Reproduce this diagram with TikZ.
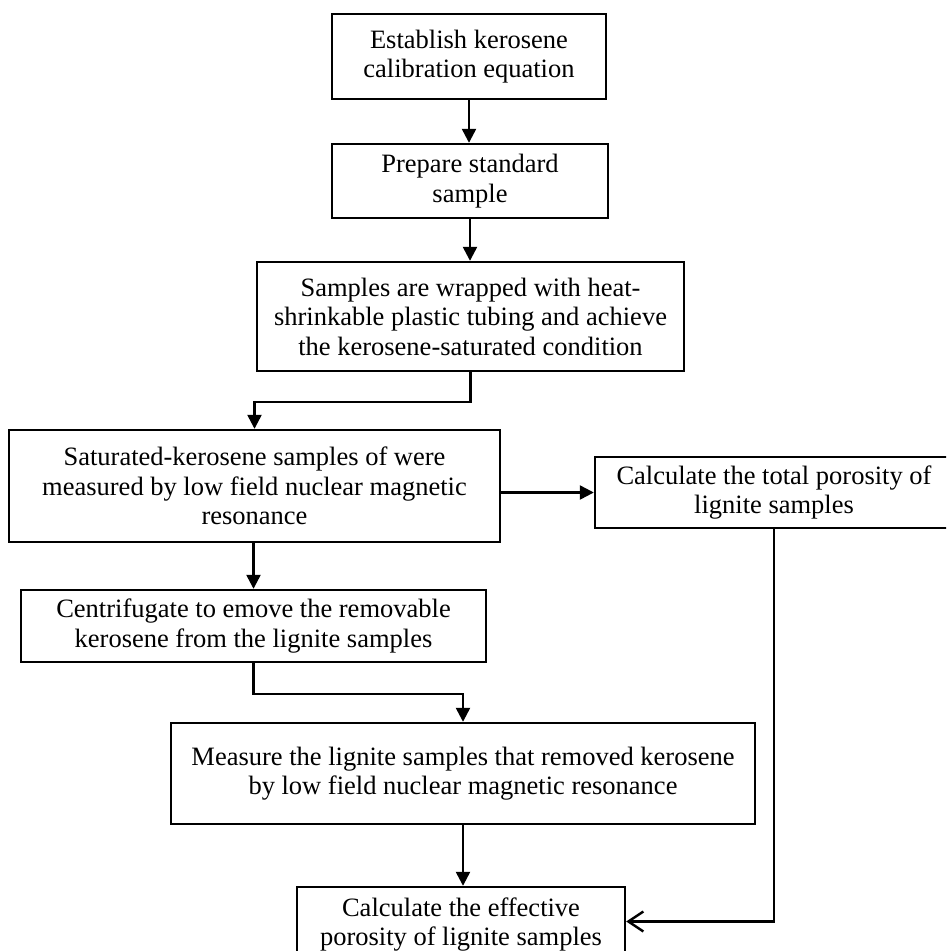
\documentclass[tikz,border=0pt]{standalone}
\usepackage{fontspec}
\setmainfont{Liberation Serif}
\usetikzlibrary{arrows.meta,calc}
\begin{document}
\begin{tikzpicture}[x=1pt,y=-1pt,
  box/.style={draw=black,line width=2.4pt,inner sep=0pt,align=center,
    font=\fontsize{26.5}{29.5}\selectfont},
  arr/.style={line width=2.4pt,-{Triangle[length=14pt,width=14pt]}},
  openarr/.style={line width=2.4pt,-{Straight Barb[length=15pt,width=20pt,line width=2.4pt]}}]
\useasboundingbox (0,0) rectangle (946,951);
\clip (0,0) rectangle (946,951);
\node[box,minimum width=274pt,minimum height=85pt] (b1) at (469,56.5)
  {Establish kerosene\\calibration equation};
\node[box,minimum width=276pt,minimum height=74pt] (b2) at (470,181)
  {Prepare standard\\sample};
\node[box,minimum width=427pt,minimum height=109pt] (b3) at (470.5,316.5)
  {Samples are wrapped with heat-\\shrinkable plastic tubing and achieve\\the kerosene-saturated condition};
\node[box,minimum width=491pt,minimum height=112pt] (b4) at (254.5,486)
  {Saturated-kerosene samples of were\\measured by low field nuclear magnetic\\resonance};
\node[box,minimum width=358pt,minimum height=71pt] (b5) at (774,492.5)
  {Calculate the total porosity of\\lignite samples};
\node[box,minimum width=465pt,minimum height=72pt] (b6) at (253.5,626)
  {Centrifugate to emove the removable\\kerosene from the lignite samples};
\node[box,minimum width=584pt,minimum height=101pt] (b7) at (463,773.5)
  {Measure the lignite samples that removed kerosene\\by low field nuclear magnetic resonance};
\node[box,minimum width=328pt,minimum height=75pt] (b8) at (461,924.5)
  {Calculate the effective\\porosity of lignite samples};
\draw[arr] (b1.south) -- (b1.south |- b2.north);
\draw[arr] (b2.south) -- (b2.south |- b3.north);
\draw[arr] (b3.south) -- ++(0,30) -| (b4.north);
\draw[arr] (b5.west -| b4.east) -- (b5.west);
\draw[arr] (b6.north |- b4.south) -- (b6.north);
\draw[arr] (b6.south) -- ++(0,31) -| (b7.north);
\draw[arr] (b7.south) -- (b7.south |- b8.north);
\draw[openarr] (b5.south) |- ($(b8.east)+(0,-3)$);
\end{tikzpicture}
\end{document}
